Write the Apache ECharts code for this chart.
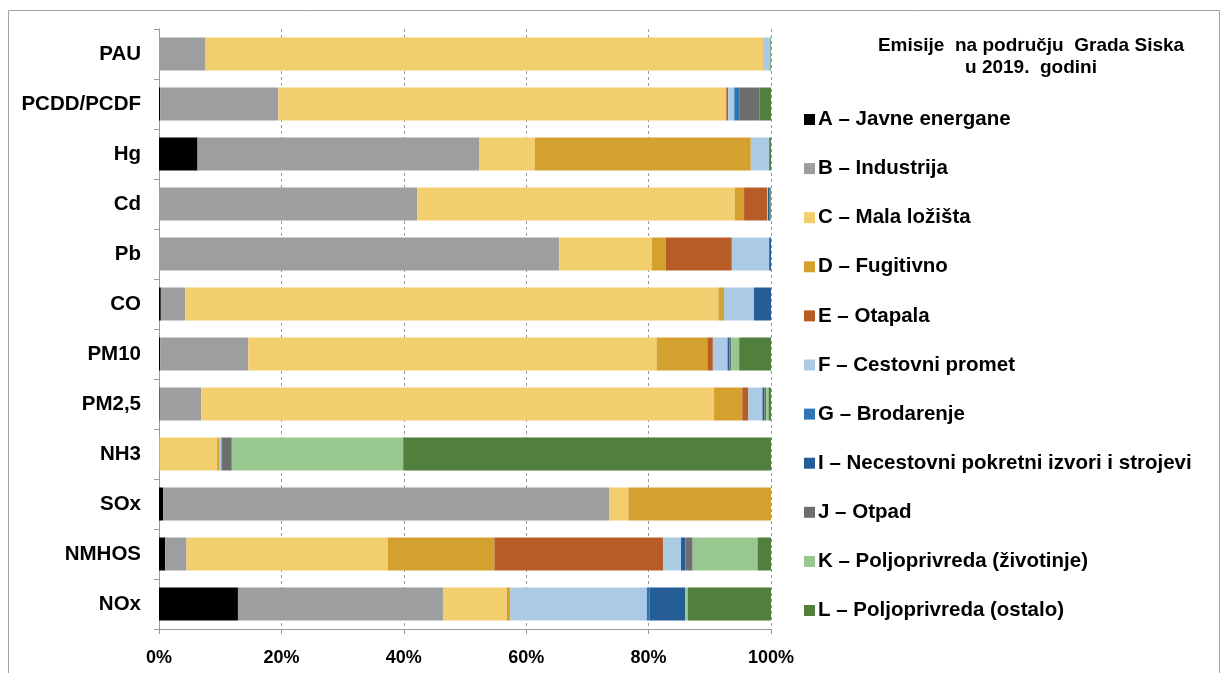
<!DOCTYPE html>
<html>
<head>
<meta charset="utf-8">
<script src="https://cdn.jsdelivr.net/npm/echarts@6/dist/echarts.min.js"></script>
<style>
  html, body { margin: 0; padding: 0; background: #fff; }
  #chart { width: 1227px; height: 673px; }
</style>
</head>
<body>
<div id="chart"></div>
<script>
// kategorije (odozgo prema dolje)
var categories = ['PAU', 'PCDD/PCDF', 'Hg', 'Cd', 'Pb', 'CO', 'PM10', 'PM2,5', 'NH3', 'SOx', 'NMHOS', 'NOx'];
var xTicks = [0, 20, 40, 60, 80, 100];

// udjeli po sektorima (%)
var sectorA = [0, 0.2, 6.3, 0, 0, 0.3, 0.2, 0.1, 0, 0.7, 1.0, 12.9];
var sectorB = [7.6, 19.3, 46.0, 42.2, 65.4, 4.0, 14.4, 6.8, 0.1, 72.9, 3.5, 33.5];
var sectorC = [91.1, 73.2, 9.1, 51.9, 15.1, 87.1, 66.7, 83.8, 9.4, 3.1, 32.9, 10.4];
var sectorD = [0, 0, 35.3, 1.5, 2.3, 0.8, 8.3, 4.6, 0.3, 23.3, 17.4, 0.6];
var sectorE = [0, 0.3, 0, 3.8, 10.8, 0.1, 0.9, 1.0, 0, 0, 27.6, 0];
var sectorF = [1.2, 1.0, 3.0, 0.1, 6.1, 4.9, 2.4, 2.3, 0.4, 0, 2.9, 22.3];
var sectorG = [0, 0.8, 0, 0, 0, 0, 0, 0, 0, 0, 0, 0.5];
var sectorI = [0, 0, 0, 0.2, 0.3, 2.8, 0.3, 0.3, 0, 0, 0.7, 5.8];
var sectorJ = [0, 3.3, 0, 0.2, 0, 0, 0.3, 0.3, 1.7, 0, 1.2, 0];
var sectorK = [0, 0, 0, 0, 0, 0, 1.3, 0.4, 28.0, 0, 10.6, 0.4];
var sectorL = [0.1, 1.9, 0.3, 0.1, 0, 0, 5.2, 0.4, 60.1, 0, 2.2, 13.6];

var sectorNames = [
    'A – Javne energane',
    'B – Industrija',
    'C – Mala ložišta',
    'D – Fugitivno',
    'E – Otapala',
    'F – Cestovni promet',
    'G – Brodarenje',
    'I – Necestovni pokretni izvori i strojevi',
    'J – Otpad',
    'K – Poljoprivreda (životinje)',
    'L – Poljoprivreda (ostalo)'
];
var sectorData = [sectorA, sectorB, sectorC, sectorD, sectorE, sectorF, sectorG, sectorI, sectorJ, sectorK, sectorL];
var colors = ['#000000', '#9d9ea0', '#f2ce6e', '#d4a12e', '#b85c27', '#abcbe5', '#2e75b6', '#255e96', '#6e6e6e', '#98c890', '#507f3e'];

var font = 'Liberation Sans, Arial, sans-serif';

var series = [];
for (var i = 0; i < sectorNames.length; i++) {
    series.push({
        name: sectorNames[i],
        type: 'bar',
        stack: 'ukupno',
        barWidth: 33,
        data: sectorData[i]
    });
}

var chart = echarts.init(document.getElementById('chart'));
chart.setOption({
    animation: false,
    color: colors,
    title: {
        text: 'Emisije  na području  Grada Siska\nu 2019.  godini',
        left: 1026,
        top: 30,
        textAlign: 'center',
        textStyle: { fontFamily: font, fontSize: 19, fontWeight: 'bold', color: '#000', lineHeight: 22 }
    },
    legend: {
        orient: 'vertical',
        left: 799,
        top: 104,
        icon: 'rect',
        itemWidth: 11,
        itemHeight: 11,
        itemGap: 28.1,
        textStyle: { fontFamily: font, fontSize: 20.5, fontWeight: 'bold', color: '#000', lineHeight: 20, padding: [0, 0, 0, -2] }
    },
    grid: { left: 159, top: 29, width: 612, height: 600, containLabel: false },
    xAxis: {
        type: 'value',
        min: xTicks[0],
        max: xTicks[xTicks.length - 1],
        interval: 20,
        axisLine: { show: true, lineStyle: { color: '#999', width: 1 } },
        axisTick: { show: true, length: 5, lineStyle: { color: '#999' } },
        axisLabel: {
            formatter: '{value}%',
            margin: 20,
            fontFamily: font, fontSize: 18, fontWeight: 'bold', color: '#000'
        },
        splitLine: { show: true, lineStyle: { color: '#999', type: [3, 3], width: 1 } }
    },
    yAxis: {
        type: 'category',
        inverse: true,
        data: categories,
        axisLine: { show: true, lineStyle: { color: '#999', width: 1 } },
        axisTick: { show: true, length: 5, lineStyle: { color: '#999' } },
        axisLabel: { margin: 18, fontFamily: font, fontSize: 20.5, fontWeight: 'bold', color: '#000', padding: [4, 0, 0, 0] }
    },
    graphic: [{
        type: 'rect',
        shape: { x: 8.5, y: 10.5, width: 1211, height: 680 },
        style: { fill: null, stroke: '#a0a0a0', lineWidth: 1 },
        silent: true
    }],
    series: series
});
</script>
</body>
</html>
